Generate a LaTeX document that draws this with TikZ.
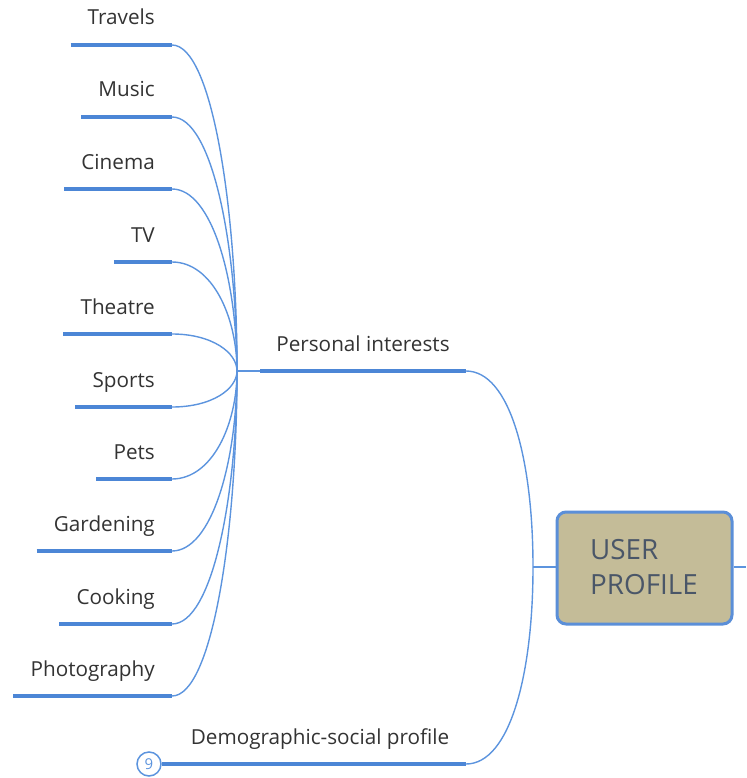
\documentclass[tikz,border=0pt]{standalone}
\usepackage{fontspec}
\setmainfont{Open Sans}
\usetikzlibrary{calc}
\definecolor{branch}{HTML}{4C86D6}
\definecolor{twig}{HTML}{5C94DE}
\definecolor{labeltext}{HTML}{333333}
\definecolor{boxfill}{HTML}{C4BC98}
\definecolor{boxedge}{HTML}{5B8FD8}
\definecolor{boxtext}{HTML}{4A5668}
\tikzset{
  leaflabel/.style={inner sep=0pt, text=labeltext, font=\fontsize{20.7}{24}\selectfont},
  thickline/.style={draw=branch, line width=4pt},
  thinline/.style={draw=twig, line width=1.4pt},
  rootbox/.style={draw=boxedge, line width=3pt, fill=boxfill, rounded corners=9pt,
    minimum width=175pt, minimum height=112pt, inner sep=0pt},
  roottext/.style={anchor=base west, inner sep=0pt, text=boxtext, font=\fontsize{27.8}{32}\selectfont},
  countbadge/.style={circle, draw=twig, line width=1.5pt, fill=white, minimum size=24pt,
    inner sep=0pt, text=twig, font=\fontsize{15}{17}\selectfont},
}
\begin{document}
\begin{tikzpicture}[x=1pt, y=-1pt]
\useasboundingbox (0,0) rectangle (746,778);

% hub where the interest twigs meet
\coordinate (hub) at (237,371);

% leaf topics of the personal interests branch
\foreach \n/\t/\y in {travels/Travels/45, music/Music/117, cinema/Cinema/189,
  tv/TV/262, theatre/Theatre/334, sports/Sports/407, pets/Pets/479,
  gardening/Gardening/551, cooking/Cooking/624, photo/Photography/696} {
  \coordinate (\n-r) at (172,\y);
  \node[leaflabel, anchor=base east] (\n) at (155,\y-20) {\t};
  \coordinate (\n-l) at ($(\n.west |- \n-r)+(-17,0)$);
  \draw[thickline] (\n-l) -- (\n-r);
  \pgfmathsetmacro{\mid}{(\y+371)/2}
  \draw[thinline] (\n-r) .. controls +(40,0) and (237,\mid) .. (hub);
}

% personal interests branch
\coordinate (pi-l) at (260,371);
\coordinate (pi-r) at (466,371);
\node[leaflabel, anchor=base] (pilabel) at (363,351) {Personal interests};
\draw[thinline] (hub) -- (pi-l);
\draw[thickline] (pi-l) -- (pi-r);

% demographic branch with collapsed-children badge
\node[countbadge] (badge) at (149,764) {9};
\coordinate (dm-r) at (466,764);
\node[leaflabel, anchor=base] (dmlabel) at (320,744) {Demographic-social profile};
\draw[thickline] (badge.east) -- (dm-r);

% root topic
\coordinate (join) at (533,567);
\node[rootbox] (root) at (644.5,568) {};
\node[roottext] (rootl1) at (590,559) {USER};
\node[roottext] (rootl2) at (590,594) {PROFILE};
\coordinate (exit) at (746,567);

\draw[thinline] (pi-r) .. controls +(44,0) and (533,460) .. (join);
\draw[thinline] (dm-r) .. controls +(44,0) and (533,674) .. (join);
\draw[thinline] (join) -- (root.west |- join);
\draw[thinline] (root.east |- exit) -- (exit);
\end{tikzpicture}
\end{document}
